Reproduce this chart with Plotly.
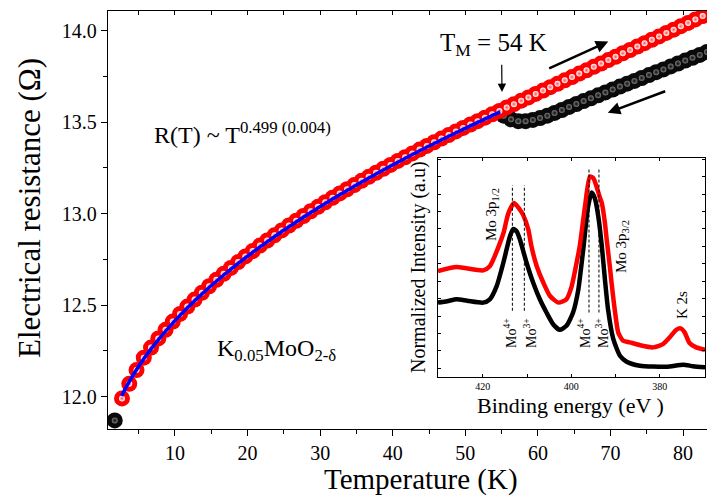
import plotly.graph_objects as go

# ---------------- data ----------------
# heating run (red): temperature (K) and resistance (Ohm)
temp_heat = [2.7, 3.7, 4.7, 5.7, 6.7, 7.7, 8.7, 9.7, 10.7, 11.7, 12.7, 13.7, 14.7, 15.7,
             16.7, 17.7, 18.7, 19.7, 20.7, 21.7, 22.7, 23.7, 24.7, 25.7, 26.7, 27.7, 28.7,
             29.7, 30.7, 31.7, 32.7, 33.7, 34.7, 35.7, 36.7, 37.7, 38.7, 39.7, 40.7, 41.7,
             42.7, 43.7, 44.7, 45.7, 46.7, 47.7, 48.7, 49.7, 50.7, 51.7, 52.7, 53.7, 54.7,
             55.7, 56.7, 57.7, 58.7, 59.7, 60.7, 61.7, 62.7, 63.7, 64.7, 65.7, 66.7, 67.7,
             68.7, 69.7, 70.7, 71.7, 72.7, 73.7, 74.7, 75.7, 76.7, 77.7, 78.7, 79.7, 80.7,
             81.7, 82.7, 83.7]
res_heat = [11.990, 12.070, 12.145, 12.213, 12.268, 12.318, 12.365, 12.410, 12.452, 12.492,
            12.530, 12.567, 12.603, 12.638, 12.671, 12.703, 12.735, 12.766, 12.795, 12.825,
            12.853, 12.881, 12.908, 12.935, 12.961, 12.987, 13.013, 13.037, 13.062, 13.086,
            13.110, 13.133, 13.156, 13.179, 13.201, 13.223, 13.245, 13.266, 13.288, 13.308,
            13.329, 13.350, 13.370, 13.390, 13.410, 13.429, 13.449, 13.468, 13.487, 13.505,
            13.524, 13.543, 13.561, 13.580, 13.598, 13.617, 13.635, 13.654, 13.672, 13.691,
            13.709, 13.728, 13.746, 13.765, 13.783, 13.802, 13.820, 13.839, 13.857, 13.876,
            13.894, 13.913, 13.931, 13.950, 13.968, 13.987, 14.005, 14.024, 14.042, 14.061,
            14.079, 14.098]

# cooling run (black)
temp_cool = [1.7, 55.3, 56.3, 57.3, 58.3, 59.3, 60.3, 61.3, 62.3, 63.3, 64.3, 65.3, 66.3,
             67.3, 68.3, 69.3, 70.3, 71.3, 72.3, 73.3, 74.3, 75.3, 76.3, 77.3, 78.3, 79.3,
             80.3, 81.3, 82.3, 83.3]
res_cool = [11.870, 13.535, 13.515, 13.505, 13.505, 13.512, 13.522, 13.535, 13.550, 13.566,
            13.583, 13.599, 13.615, 13.630, 13.646, 13.662, 13.678, 13.694, 13.710, 13.725,
            13.741, 13.757, 13.773, 13.788, 13.804, 13.820, 13.836, 13.851, 13.867, 13.883]

# power-law fit R(T) ~ T^0.499
temp_fit = [2.66, 3.5, 5.0, 7.0, 10.0, 13.0, 17.0, 22.0, 28.0, 35.0, 42.0, 49.0, 54.8]
res_fit = [12.004, 12.068, 12.166, 12.276, 12.415, 12.535, 12.674, 12.826, 12.988, 13.156,
           13.308, 13.447, 13.556]

# XPS Mo 3p / K 2s region (inset): binding energy (eV) and normalized intensity
be_black = [430.1, 428.0, 425.9, 423.5, 419.9, 418.4, 416.85, 415.3, 413.85, 413.1, 412.3,
            411.6, 410.1, 408.6, 407.1, 405.6, 404.1, 402.6, 401.1, 399.6, 398.4, 397.3,
            396.2, 395.4, 394.7, 393.9, 393.1, 392.4, 391.7, 390.5, 389.0, 387.5, 384.5,
            378.5, 374.7, 372.5, 369.8]
int_black = [3.77, 3.85, 3.96, 3.88, 3.77, 3.96, 4.72, 6.10, 7.58, 8.00, 7.85, 7.39, 6.06,
             4.91, 3.96, 3.20, 2.53, 2.21, 2.44, 3.20, 4.53, 6.82, 9.29, 10.09, 9.77, 8.72,
             7.00, 5.10, 3.39, 1.67, 0.72, 0.38, 0.15, 0.09, 0.21, 0.12, 0.06]

be_red = [430.1, 425.9, 419.9, 418.4, 417.6, 416.1, 415.3, 414.2, 412.9, 411.6, 410.9,
          409.7, 409.0, 407.8, 406.3, 404.8, 402.9, 401.1, 399.9, 398.8, 398.1, 396.9,
          395.8, 395.0, 394.3, 393.5, 393.1, 392.4, 392.0, 391.3, 390.9, 390.1, 389.4,
          388.3, 386.8, 384.5, 381.5, 379.3, 377.8, 376.3, 375.3, 374.4, 373.3, 371.8,
          369.8]
int_red = [5.58, 5.81, 5.62, 5.86, 6.25, 7.20, 7.77, 8.91, 9.49, 9.10, 8.82, 7.96, 7.00,
           5.86, 4.91, 4.15, 3.77, 3.96, 4.72, 6.06, 7.00, 9.29, 11.01, 10.91, 10.43, 9.77,
           9.49, 8.34, 7.39, 5.86, 4.91, 3.20, 2.06, 1.58, 1.49, 1.33, 1.20, 1.39, 1.77,
           2.21, 2.29, 2.06, 1.45, 1.20, 1.06]

# Mo4+ / Mo3+ component positions (eV) and the intensity span of their markers
peak_be = [413.3, 410.6, 396.0, 393.75]
peak_low = [3.3, 3.3, 3.2, 3.2]
peak_high = [10.5, 10.5, 11.5, 11.5]

# ---------------- layout geometry ----------------
W, H = 707, 498
ML, MR, MT, MB = 108, 0, 11, 69
PW, PH = W - ML - MR, H - MT - MB


def px(x):
    return (x - ML) / PW


def py(y):
    return (H - MB - y) / PH


FONT = "Liberation Serif, Times New Roman, serif"

fig = go.Figure()

# cooling run: dark spheres with a soft grey highlight
fig.add_trace(go.Scatter(x=temp_cool, y=res_cool, mode="markers", hoverinfo="skip",
                         marker=dict(size=16, color="#0a0a0a", line=dict(width=0))))
fig.add_trace(go.Scatter(x=temp_cool, y=res_cool, mode="markers", hoverinfo="skip",
                         marker=dict(size=6, color="#7a7a7a", line=dict(width=0),
                                     gradient=dict(type="radial", color="#0a0a0a"))))
# heating run: red spheres with a white highlight
fig.add_trace(go.Scatter(x=temp_heat, y=res_heat, mode="markers", hoverinfo="skip",
                         marker=dict(size=16, color="#ff0000", line=dict(width=0))))
fig.add_trace(go.Scatter(x=temp_heat, y=res_heat, mode="markers", hoverinfo="skip",
                         marker=dict(size=6, color="#ffffff", line=dict(width=0),
                                     gradient=dict(type="radial", color="#ff5050"))))
# fit curve
fig.add_trace(go.Scatter(x=temp_fit, y=res_fit, mode="lines", hoverinfo="skip",
                         line=dict(color="#0000ff", width=3.5, shape="spline")))
# top frame of the main panel
fig.add_trace(go.Scatter(x=[], y=[], xaxis="x3", yaxis="y", showlegend=False))

# inset spectra
fig.add_trace(go.Scatter(x=be_black, y=int_black, xaxis="x2", yaxis="y2", mode="lines",
                         hoverinfo="skip", line=dict(color="#000000", width=4.5, shape="spline",
                                                     smoothing=0.6)))
fig.add_trace(go.Scatter(x=be_red, y=int_red, xaxis="x2", yaxis="y2", mode="lines",
                         hoverinfo="skip", line=dict(color="#ff0000", width=4.5, shape="spline",
                                                     smoothing=0.6)))
dash_x, dash_y = [], []
for e, lo, hi in zip(peak_be, peak_low, peak_high):
    dash_x += [e, e, None]
    dash_y += [lo, hi, None]
fig.add_trace(go.Scatter(x=dash_x, y=dash_y, xaxis="x2", yaxis="y2", mode="lines",
                         hoverinfo="skip", line=dict(color="#000000", width=1, dash="3px,2px")))

axis_common = dict(showline=True, linecolor="black", linewidth=1.3, showgrid=False,
                   zeroline=False, tickcolor="black", tickwidth=1.2)

fig.update_layout(
    width=W, height=H, autosize=False,
    margin=dict(l=ML, r=MR, t=MT, b=MB, pad=0),
    paper_bgcolor="white", plot_bgcolor="white",
    showlegend=False,
    font=dict(family=FONT, color="black"),
    xaxis=dict(domain=[0, 1], anchor="y", range=[0.77, 83.3], ticks="outside", ticklen=6,
               dtick=10, tick0=0, tickfont=dict(size=20, family=FONT),
               minor=dict(ticks="outside", ticklen=4, dtick=5, tick0=0, tickcolor="black"),
               **axis_common),
    xaxis3=dict(overlaying="x", side="top", anchor="y", range=[0.77, 83.3], ticks="inside",
                ticklen=4, dtick=5, tick0=0, showticklabels=False, **axis_common),
    yaxis=dict(domain=[0, 1], anchor="x", range=[11.823, 14.107], ticks="outside", ticklen=6,
               dtick=0.5, tick0=12, tickformat=".1f", tickfont=dict(size=20, family=FONT),
               minor=dict(ticks="outside", ticklen=4, dtick=0.25, tick0=12, tickcolor="black"),
               **axis_common),
    xaxis2=dict(domain=[px(438), px(705)], anchor="y2", range=[430.1, 369.8],
                tickvals=[420, 400, 380], ticks="inside", ticklen=3, mirror="ticks",
                tickfont=dict(size=10, family=FONT),
                minor=dict(ticks="inside", ticklen=3, tickvals=[410, 390],
                           tickcolor="black"),
                **axis_common),
    yaxis2=dict(domain=[py(377), py(158)], anchor="x2", range=[-0.5, 12.07], dtick=1, tick0=0,
                ticks="inside", ticklen=3, showticklabels=False, mirror="ticks",
                **axis_common),
)


def label(text, x, y, size, angle=0, xanchor="center", yanchor="middle"):
    fig.add_annotation(text=text, x=px(x), y=py(y), xref="paper", yref="paper",
                       showarrow=False, textangle=angle, xanchor=xanchor, yanchor=yanchor,
                       font=dict(size=size, family=FONT, color="black"))


def arrow(head, tail, width, size):
    fig.add_annotation(text="", x=px(head[0]), y=py(head[1]), xref="paper", yref="paper",
                       ax=tail[0] - head[0], ay=tail[1] - head[1], showarrow=True,
                       arrowhead=2, arrowsize=size, arrowwidth=width, arrowcolor="black")


label("Electrical resistance (Ω)", 30, 208, 31, angle=-90)
label("Temperature (K)", 421, 480, 29)
label("T<sub>M</sub> = 54 K", 438, 45, 25, xanchor="left")
label("R(T) ~ T<sup>0.499 (0.004)</sup>", 152, 133, 24, xanchor="left")
label("K<sub>0.05</sub>MoO<sub>2-δ</sub>", 215, 350, 24, xanchor="left")

label("Normalized Intensity (a.u)", 418, 267, 20, angle=-90)
label("Binding energy (eV )", 570, 405, 22)
label("Mo 3p<sub>1/2</sub>", 492, 215, 15, angle=-90)
label("Mo 3p<sub>3/2</sub>", 622, 247, 15, angle=-90)
label("Mo<sup>4+</sup>", 510, 333, 14, angle=-90)
label("Mo<sup>3+</sup>", 530, 333, 14, angle=-90)
label("Mo<sup>4+</sup>", 584, 333, 14, angle=-90)
label("Mo<sup>3+</sup>", 602, 333, 14, angle=-90)
label("K 2s", 682, 305, 15, angle=-90)

arrow((608.3, 41.5), (547.7, 69.0), 2.5, 1.0)
arrow((607.8, 112.7), (666.7, 90.7), 2.5, 1.0)
arrow((502.0, 92.0), (501.7, 63.3), 1.2, 1.4)

fig.write_html("out.html")
